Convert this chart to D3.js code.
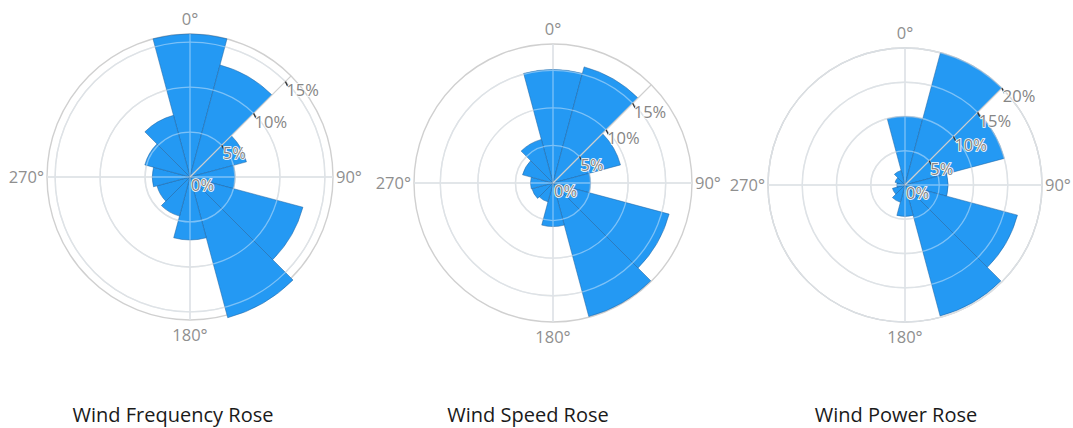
<!DOCTYPE html>
<html>
<head>
<meta charset="utf-8">
<script src="https://cdn.jsdelivr.net/npm/d3@7"></script>
<style>
  html, body { margin: 0; padding: 0; background: #fff; }
  svg { display: block; }
</style>
</head>
<body>
<svg id="chart" width="1073" height="428" viewBox="0 0 1073 428"></svg>
<script>
// wind direction bins (degrees, clockwise from north)
const directions = [0, 30, 60, 90, 120, 150, 180, 210, 240, 270, 300, 330];

// percent per direction bin
const frequencyValues = [15.9, 12.9, 6.5, 5.0, 13.0, 16.2, 7.0, 4.5, 3.8, 4.2, 5.2, 7.1];
const speedValues = [15.1, 16.0, 9.3, 5.0, 16.0, 18.4, 5.8, 2.6, 2.9, 3.0, 4.2, 6.0];
const powerValues = [10.0, 20.0, 15.0, 6.3, 17.0, 19.8, 4.6, 2.6, 1.9, 1.2, 1.5, 2.2];

const radialTicks1 = [0, 5, 10, 15];
const radialTicks2 = [0, 5, 10, 15];
const radialTicks3 = [0, 5, 10, 15, 20];

const angularTicks = [0, 90, 180, 270];
const titles = ["Wind Frequency Rose", "Wind Speed Rose", "Wind Power Rose"];

const svg = d3.select("#chart");

function drawRose(svgSel, values, ticks, opts) {
  const g = svgSel
    .append("g")
    .attr("class", "rose")
    .attr("transform", `translate(${opts.cx} ${opts.cy})`);

  const r = d3.scaleLinear().domain([0, opts.rmax]).range([0, opts.radius]);
  const R = opts.radius;
  const binWidth = 30;
  const toRad = (a) => (a * Math.PI) / 180;

  // grid under the bars
  const gridG = g.append("g").attr("class", "grid");
  gridG
    .selectAll("circle")
    .data(ticks.filter((t) => t > 0))
    .enter()
    .append("circle")
    .attr("r", (d) => r(d))
    .attr("fill", "none")
    .attr("stroke", "#d6d6d6")
    .attr("stroke-width", 1.4);
  gridG
    .append("circle")
    .attr("r", R)
    .attr("fill", "none")
    .attr("stroke", "#d0d0d0")
    .attr("stroke-width", 1.4);
  gridG
    .selectAll("line")
    .data(angularTicks)
    .enter()
    .append("line")
    .attr("x1", 0)
    .attr("y1", 0)
    .attr("x2", (d) => R * Math.sin(toRad(d)))
    .attr("y2", (d) => -R * Math.cos(toRad(d)))
    .attr("stroke", "#d6d6d6")
    .attr("stroke-width", 1.4);

  const arc = d3
    .arc()
    .innerRadius(0)
    .outerRadius((d) => r(d.value))
    .startAngle((d) => toRad(d.dir - binWidth / 2))
    .endAngle((d) => toRad(d.dir + binWidth / 2));

  const data = directions.map((dir, i) => ({ dir: dir, value: values[i] }));

  g.append("g")
    .attr("class", "bars")
    .selectAll("path")
    .data(data)
    .enter()
    .append("path")
    .attr("d", arc)
    .attr("fill", "#2499f3")
    .attr("stroke", "#1c5f9e")
    .attr("stroke-opacity", 0.55)
    .attr("stroke-width", 0.9);

  // grid lines show faintly through the bars
  const overG = g.append("g").attr("class", "gridOver").style("opacity", 0.45);
  overG
    .selectAll("circle")
    .data(ticks.filter((t) => t > 0))
    .enter()
    .append("circle")
    .attr("r", (d) => r(d))
    .attr("fill", "none")
    .attr("stroke", "#e8f3fd")
    .attr("stroke-width", 1.3);
  overG
    .selectAll("line")
    .data(angularTicks)
    .enter()
    .append("line")
    .attr("x1", 0)
    .attr("y1", 0)
    .attr("x2", (d) => R * Math.sin(toRad(d)))
    .attr("y2", (d) => -R * Math.cos(toRad(d)))
    .attr("stroke", "#e8f3fd")
    .attr("stroke-width", 1.3);

  // radial axis at 45 degrees
  const axAng = toRad(45);
  const ux = Math.sin(axAng);
  const uy = -Math.cos(axAng);
  g.append("line")
    .attr("x1", 0)
    .attr("y1", 0)
    .attr("x2", R * ux)
    .attr("y2", R * uy)
    .attr("stroke", "#cfcfcf")
    .attr("stroke-width", 1.2);

  const tickG = g
    .append("g")
    .attr("class", "radialTicks")
    .selectAll("g")
    .data(ticks)
    .enter()
    .append("g")
    .attr("transform", (d) => `translate(${r(d) * ux} ${r(d) * uy})`);

  tickG
    .filter((d) => d > 0)
    .append("line")
    .attr("x1", 0)
    .attr("y1", 0)
    .attr("x2", 2.5)
    .attr("y2", 5)
    .attr("stroke", "#333")
    .attr("stroke-width", 1.3);

  tickG
    .append("text")
    .attr("x", 1)
    .attr("y", 1)
    .attr("dy", "0.8em")
    .text((d) => `${d}%`)
    .attr("fill", "#858585")
    .attr("stroke", "#ffffff")
    .attr("stroke-width", 1.6)
    .attr("paint-order", "stroke")
    .style("font-family", "'Open Sans', sans-serif")
    .style("font-size", "16.5px");

  // angular labels
  g.append("g")
    .attr("class", "angularLabels")
    .selectAll("text")
    .data(angularTicks)
    .enter()
    .append("text")
    .attr("x", (d) => (R + 3) * Math.sin(toRad(d)))
    .attr("y", (d) => -(R + 15) * Math.cos(toRad(d)))
    .attr("dy", "0.35em")
    .attr("text-anchor", (d) => (d === 90 ? "start" : d === 270 ? "end" : "middle"))
    .text((d) => `${d}°`)
    .attr("fill", "#8f8f8f")
    .style("font-family", "'Open Sans', sans-serif")
    .style("font-size", "16.5px");

  svgSel
    .append("text")
    .attr("x", opts.titleX)
    .attr("y", 422)
    .attr("text-anchor", "middle")
    .text(opts.title)
    .attr("fill", "#1a1a1a")
    .style("font-family", "'Open Sans', sans-serif")
    .style("font-size", "20px");
}

drawRose(svg, frequencyValues, radialTicks1, {
  cx: 190, cy: 177, radius: 143, rmax: 15.9, titleX: 173, title: titles[0],
});
drawRose(svg, speedValues, radialTicks2, {
  cx: 553, cy: 183, radius: 139, rmax: 18.5, titleX: 528, title: titles[1],
});
drawRose(svg, powerValues, radialTicks3, {
  cx: 905, cy: 185, radius: 137, rmax: 20, titleX: 896, title: titles[2],
});
</script>
</body>
</html>
